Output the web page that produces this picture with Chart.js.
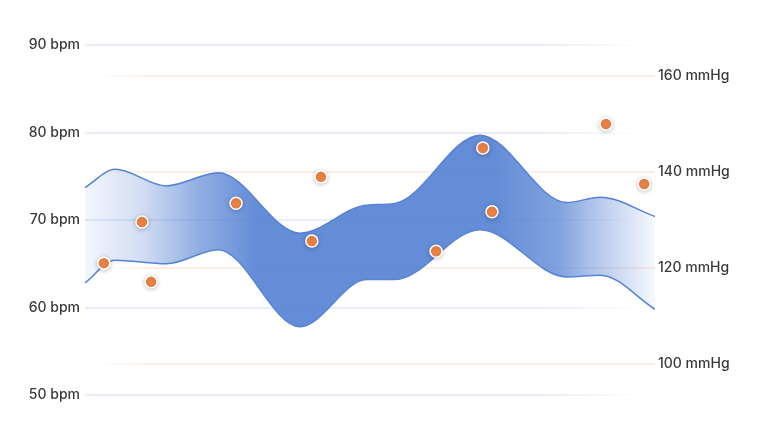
<!DOCTYPE html>
<html>
<head>
    <title>Heart rate and blood pressure</title>
    <script src="https://cdn.jsdelivr.net/npm/chart.js@4.4.1/dist/chart.umd.min.js"></script>
    <style>
        html, body { margin: 0; padding: 0; background: #fff; }
        .chart-container { width: 760px; height: 440px; position: relative; }
    </style>
</head>
<body>
    <div class="chart-container">
        <canvas id="vitalsChart"></canvas>
    </div>

    <script>
        // band (heart rate range, bpm) on a 0..100 time scale
        const bandX = [0, 5.3, 14.3, 23.4, 37.7, 49.4, 54.4, 69.3, 84.5, 90.4, 100];
        const upperBpm = [73.7, 75.8, 73.9, 75.4, 68.5, 71.7, 71.9, 79.7, 72.0, 72.6, 70.4];
        const lowerBpm = [62.8, 65.4, 65.0, 66.6, 57.8, 63.2, 63.2, 68.9, 63.5, 63.7, 59.8];

        // blood pressure readings (mmHg)
        const readingX = [3.3, 10.0, 11.6, 26.5, 39.8, 41.4, 61.6, 69.8, 71.4, 91.4, 98.1];
        const readingMmHg = [121.0, 129.6, 117.1, 133.5, 125.6, 139.0, 123.5, 145.0, 131.7, 150.0, 137.5];

        // tick labels
        const bpmTicks = [50, 60, 70, 80, 90];
        const mmHgTicks = [100, 120, 140, 160];

        function toPoints(xs, ys) {
            return xs.map(function(x, i) { return { x: x, y: ys[i] }; });
        }

        function hGradient(chart, stops) {
            const area = chart.chartArea;
            if (!area) return null;
            const g = chart.ctx.createLinearGradient(area.left, 0, area.right, 0);
            stops.forEach(function(s) { g.addColorStop(s[0], s[1]); });
            return g;
        }

        const bandFill = function(ctx) {
            return hGradient(ctx.chart, [
                [0, 'rgba(92,135,213,0.07)'],
                [0.1, 'rgba(92,135,213,0.28)'],
                [0.2, 'rgba(92,135,213,0.68)'],
                [0.3, 'rgba(92,135,213,0.95)'],
                [0.72, 'rgba(92,135,213,0.95)'],
                [0.83, 'rgba(92,135,213,0.78)'],
                [0.9, 'rgba(92,135,213,0.45)'],
                [1, 'rgba(92,135,213,0.05)']
            ]);
        };

        const bpmGrid = function(ctx) {
            return hGradient(ctx.chart, [
                [0, 'rgb(232,237,249)'],
                [0.8, 'rgb(232,237,249)'],
                [0.98, 'rgba(232,237,249,0)'],
                [1, 'rgba(232,237,249,0)']
            ]);
        };

        const mmHgGrid = function(ctx) {
            return hGradient(ctx.chart, [
                [0, 'rgba(253,238,229,0)'],
                [0.02, 'rgba(253,238,229,0)'],
                [0.12, 'rgb(253,238,229)'],
                [1, 'rgb(253,238,229)']
            ]);
        };

        // soft shadow under the orange readings
        const dotShadow = {
            id: 'dotShadow',
            beforeDatasetDraw: function(chart, args) {
                if (args.index !== 2) return;
                chart.ctx.save();
                chart.ctx.shadowColor = 'rgba(0,0,0,0.22)';
                chart.ctx.shadowBlur = 5;
                chart.ctx.shadowOffsetY = 1;
            },
            afterDatasetDraw: function(chart, args) {
                if (args.index !== 2) return;
                chart.ctx.restore();
            }
        };

        function noEdgePadding(scale) {
            scale.paddingTop = 0;
            scale.paddingBottom = 0;
        }

        Chart.defaults.font.family = 'Inter, sans-serif';
        Chart.defaults.font.size = 14;
        Chart.defaults.font.weight = '500';
        Chart.defaults.color = '#3a3a3a';

        const ctx = document.getElementById('vitalsChart').getContext('2d');
        new Chart(ctx, {
            type: 'line',
            data: {
                datasets: [{
                    label: 'HR max',
                    data: toPoints(bandX, upperBpm),
                    yAxisID: 'y',
                    order: 2,
                    borderColor: '#5581d6',
                    borderWidth: 1.5,
                    backgroundColor: bandFill,
                    fill: '+1',
                    pointRadius: 0,
                    cubicInterpolationMode: 'monotone'
                }, {
                    label: 'HR min',
                    data: toPoints(bandX, lowerBpm),
                    yAxisID: 'y',
                    order: 2,
                    borderColor: '#5581d6',
                    borderWidth: 1.5,
                    fill: false,
                    pointRadius: 0,
                    cubicInterpolationMode: 'monotone'
                }, {
                    type: 'scatter',
                    label: 'Blood pressure',
                    data: toPoints(readingX, readingMmHg),
                    yAxisID: 'y1',
                    order: 0,
                    backgroundColor: '#ef8447',
                    borderColor: '#ffffff',
                    borderWidth: 1.5,
                    pointRadius: 6,
                    pointHoverRadius: 6
                }]
            },
            options: {
                responsive: true,
                maintainAspectRatio: false,
                animation: false,
                layout: { padding: { top: 45, bottom: 45, left: 0, right: 0 } },
                plugins: {
                    legend: { display: false },
                    tooltip: { enabled: false }
                },
                scales: {
                    x: {
                        type: 'linear',
                        min: 0,
                        max: 100,
                        display: false
                    },
                    y: {
                        position: 'left',
                        min: 50,
                        max: 90,
                        border: { display: false },
                        grid: { color: bpmGrid, lineWidth: 2, drawTicks: false },
                        ticks: {
                            padding: 5,
                            callback: function(v) { return v + ' bpm'; }
                        },
                        afterBuildTicks: function(scale) {
                            scale.ticks = bpmTicks.map(function(v) { return { value: v }; });
                        },
                        afterFit: function(scale) {
                            scale.width = 85;
                            noEdgePadding(scale);
                        }
                    },
                    y1: {
                        position: 'right',
                        min: 93.5,
                        max: 166.5,
                        border: { display: false },
                        grid: { color: mmHgGrid, lineWidth: 2, drawTicks: false },
                        ticks: {
                            padding: 3,
                            callback: function(v) { return v + ' mmHg'; }
                        },
                        afterBuildTicks: function(scale) {
                            scale.ticks = mmHgTicks.map(function(v) { return { value: v }; });
                        },
                        afterFit: function(scale) {
                            scale.width = 105;
                            noEdgePadding(scale);
                        }
                    }
                }
            },
            plugins: [dotShadow]
        });
    </script>
</body>
</html>
